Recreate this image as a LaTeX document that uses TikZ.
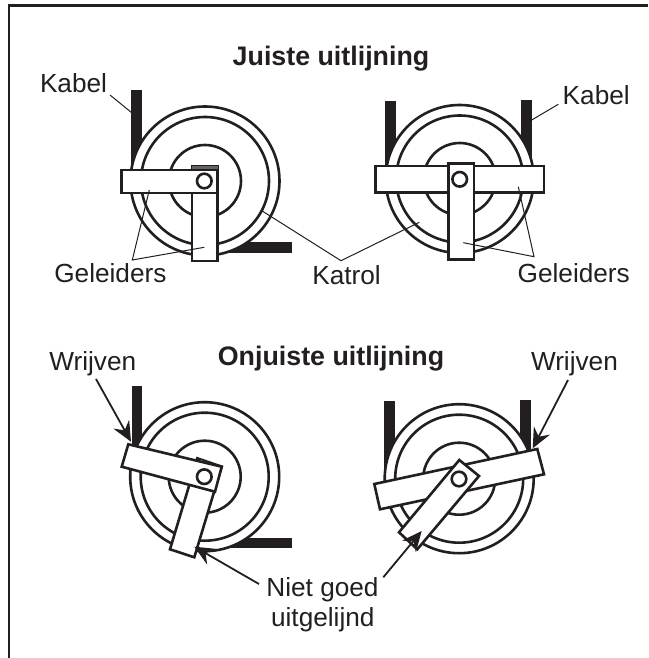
\documentclass[tikz,border=0pt]{standalone}
\usepackage{fontspec}
\setmainfont{Liberation Sans}
\usetikzlibrary{arrows.meta}
\definecolor{ink}{HTML}{231F20}
\tikzset{
  x=1pt,y=-1pt,
  lbl/.style={anchor=base west,inner sep=0pt,outer sep=0pt,text=ink,font=\fontsize{26.2}{30}\selectfont},
  ttl/.style={anchor=base,inner sep=0pt,outer sep=0pt,text=ink,font=\fontsize{26.8}{30}\selectfont\bfseries},
  rim/.style={draw=ink,line width=2.6pt,fill=white},
  inner rim/.style={draw=ink,line width=2.6pt},
  bar/.style={draw=ink,line width=2.6pt,fill=white,line join=miter},
  pin/.style={draw=ink,line width=2.6pt,fill=white},
  cable/.style={fill=ink,draw=none},
  leader/.style={draw=ink,line width=1pt},
  push/.style={draw=ink,line width=1.8pt,-{Stealth[length=20pt,width=18pt,inset=7pt]}},
}
\newcommand{\pulley}[3]{%
  \draw[rim] (#1,#2) circle[radius=#3];
  \draw[inner rim] (#1,#2) circle[radius=#3-10.5];
  \draw[inner rim] (#1,#2) circle[radius=36];
}
\begin{document}
\begin{tikzpicture}
\useasboundingbox (0,0) rectangle (648,658);
\fill[white] (0,0) rectangle (648,658);
% frame: top and left only
\draw[draw=ink,line width=2.8pt] (9,658) -- (9,5.7) -- (648,5.7);

% titles
\node[ttl] (t1) at (331,66) {Juiste uitlijning};
\node[ttl] (t2) at (331,365) {Onjuiste uitlijning};

% wheel 1
\fill[cable] (131,90) rectangle (141.8,175);
\fill[cable] (205,242) rectangle (292.3,252.8);
\pulley{205}{181}{74.5}
\draw[bar] (192,166) rectangle (217.7,261);
\fill[ink!70] (192,166) rectangle (217.7,170);
\draw[bar] (121.7,170) rectangle (217.7,193);
\draw[pin] (204.3,181) circle[radius=7.3];

% wheel 2
\fill[cable] (385,101.3) rectangle (395.6,175);
\fill[cable] (521,100) rectangle (531.8,175);
\pulley{459.7}{179}{74}
\draw[bar] (375.7,166) rectangle (544,192.3);
\draw[bar] (448.3,163.7) rectangle (474,259.3);
\draw[pin] (459.7,179.3) circle[radius=7.3];

% wheel 3
\fill[cable] (131.7,386) rectangle (142.4,470);
\fill[cable] (205,537.7) rectangle (292.3,548.3);
\pulley{204.7}{476.7}{74.5}
\draw[bar] (197.3,458.3) -- (221.7,466.7) -- (194.3,557.3) -- (170,549.3) -- cycle;
\draw[draw=ink,line width=1pt,fill=white] (199.3,459.2) -- (219.7,465.6) -- (219.2,467.4) -- (198.8,461) -- cycle;
\draw[bar] (128.3,444.3) -- (221.7,466.7) -- (215,491.7) -- (121.7,466.7) -- cycle;
\draw[pin] (204.3,476.7) circle[radius=7.3];

% wheel 4
\fill[cable] (384,401) rectangle (394.7,480);
\fill[cable] (520,400) rectangle (530.7,480);
\pulley{459.2}{478.7}{74.5}
\draw[bar] (374.3,484) -- (537.3,449) -- (544,474.3) -- (380,509.3) -- cycle;
\draw[bar] (459.3,460) -- (479,476) -- (417.3,549.3) -- (399,532.3) -- cycle;
\draw[pin] (459,479) circle[radius=7.3];

% labels
\node[lbl] (kabelL) at (40,93) {Kabel};
\node[lbl] (kabelR) at (562.7,105) {Kabel};
\node[lbl] (gelL) at (54.3,282) {Geleiders};
\node[lbl] (gelR) at (517.7,282.5) {Geleiders};
\node[lbl] (katrol) at (312.3,284) {Katrol};
\node[lbl] (wrL) at (49.3,370.7) {Wrijven};
\node[lbl] (wrR) at (531,370) {Wrijven};
\node[lbl,anchor=base] (niet) at (322.5,596.7) {Niet goed};
\node[lbl,anchor=base] (uit) at (322.8,626.3) {uitgelijnd};

% leader anchors
\coordinate (kL0) at (110,95);   \coordinate (kL1) at (131.7,112.7);
\coordinate (kR0) at (558.3,104.3); \coordinate (kR1) at (531.7,120);
\coordinate (gL) at (132.3,260);  \coordinate (gL1) at (149.3,190); \coordinate (gL2) at (204.3,247.3);
\coordinate (gR) at (534,256.7);  \coordinate (gR1) at (518.3,186.7); \coordinate (gR2) at (463.3,242.7);
\coordinate (kV) at (341,260.7);  \coordinate (kV1) at (419.3,222.3); \coordinate (kV2) at (261.7,210.7);
\coordinate (wL0) at (96,379);    \coordinate (wL1) at (131,441.7);
\coordinate (wR0) at (568,380);   \coordinate (wR1) at (532.7,448.3);
\coordinate (nL0) at (259,584); \coordinate (nL1) at (194.3,546.7);
\coordinate (nR0) at (383.3,577.3); \coordinate (nR1) at (421.7,531);

\draw[leader] (kL0) -- (kL1);
\draw[leader] (kR0) -- (kR1);
\draw[leader] (gL1) -- (gL) -- (gL2);
\draw[leader] (gR1) -- (gR) -- (gR2);
\draw[leader] (kV1) -- (kV) -- (kV2);
\draw[push] (wL0) -- (wL1);
\draw[push] (wR0) -- (wR1);
\draw[push] (nL0) -- (nL1);
\draw[push] (nR0) -- (nR1);
\end{tikzpicture}
\end{document}
